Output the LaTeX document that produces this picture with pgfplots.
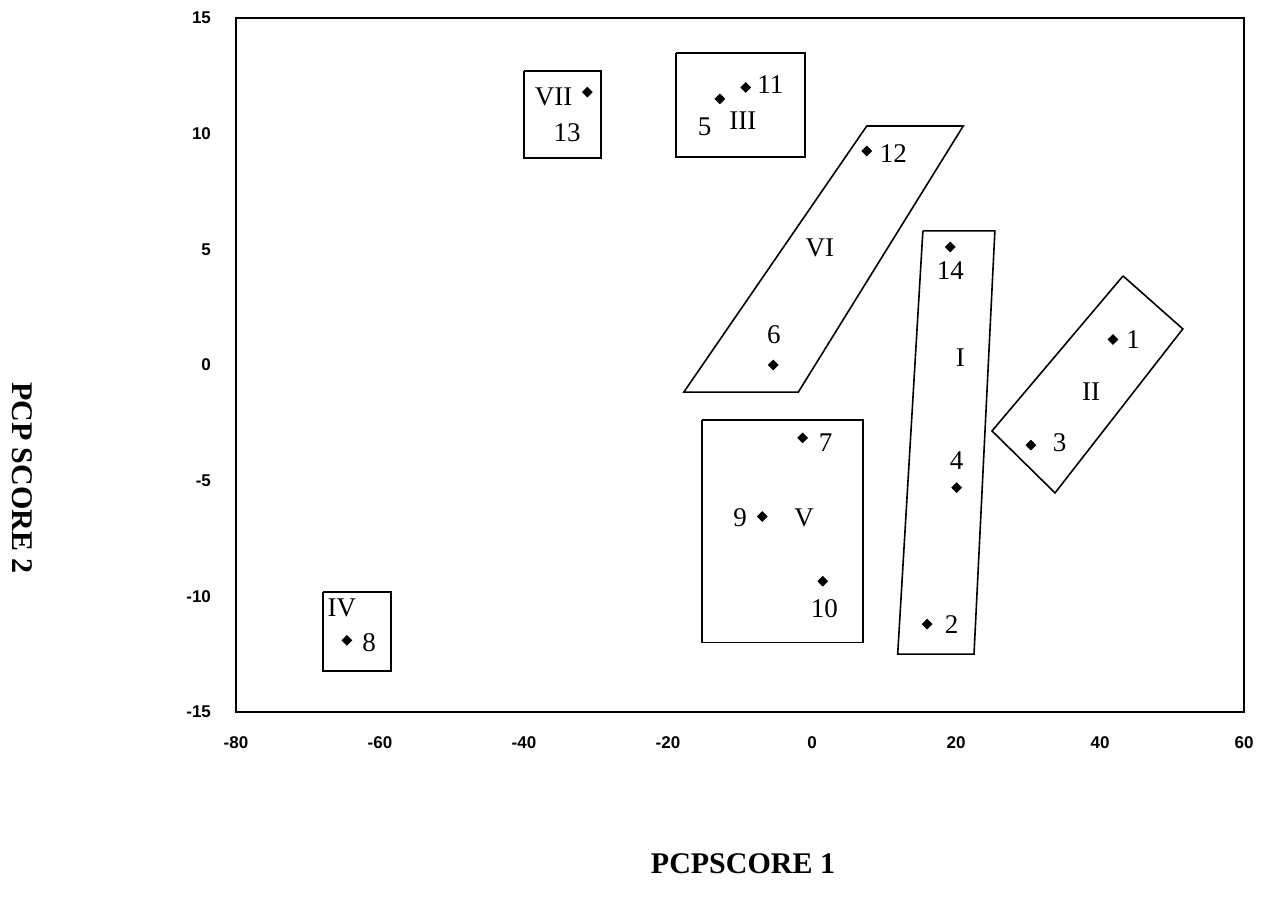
\documentclass[border=0pt]{standalone}
\usepackage{pgfplots}
\pgfplotsset{compat=1.18}
\usepackage{fontspec}
\setmainfont{Liberation Serif}
\setsansfont{Liberation Sans}
\begin{document}
\begin{tikzpicture}
\path[use as bounding box] (0,0) rectangle (637pt,448pt);
\begin{axis}[
  at={(118pt,92pt)}, anchor=south west,
  scale only axis, width=504pt, height=347pt,
  xmin=-80, xmax=60, ymin=-15, ymax=15,
  xtick={-80,-60,...,60}, ytick={-15,-10,...,15},
  major tick length=0pt,
  /pgf/number format/assume math mode=true,
  ticklabel style={font=\sffamily\bfseries\fontsize{8.5}{9}\selectfont},
  xticklabel style={yshift=-9pt},
  yticklabel style={xshift=-9pt},
  axis line style={line width=1pt},
  clip=false,
]
\addplot[only marks, mark=square*, mark size=1.7pt, mark options={rotate=45}, black] coordinates {
 (41.8,1.1) (16,-11.2) (30.4,-3.46) (20.1,-5.3) (-12.8,11.5) (-5.4,0.0) (-1.3,-3.15)
 (-64.6,-11.9) (-6.9,-6.55) (1.5,-9.35) (-9.2,12.0) (7.6,9.25) (-31.2,11.8) (19.2,5.1)
};
% group outlines
\addplot[black, line width=0.8pt] coordinates {(-40,12.7) (-29.3,12.7) (-29.3,8.95) (-40,8.95) (-40,12.7)};
\addplot[black, line width=0.8pt] coordinates {(-18.9,13.5) (-1.0,13.5) (-1.0,9.0) (-18.9,9.0) (-18.9,13.5)};
\addplot[black, line width=0.8pt] coordinates {(7.6,10.33) (21.0,10.33) (-1.9,-1.17) (-17.8,-1.17) (7.6,10.33)};
\addplot[black, line width=0.8pt] coordinates {(15.4,5.8) (25.4,5.8) (22.5,-12.5) (11.9,-12.5) (15.4,5.8)};
\addplot[black, line width=0.8pt] coordinates {(-15.3,-2.38) (7.1,-2.38) (7.1,-12.0) (-15.3,-12.0) (-15.3,-2.38)};
\addplot[black, line width=0.8pt] coordinates {(43.2,3.85) (51.5,1.56) (33.75,-5.53) (25.0,-2.85) (43.2,3.85)};
\addplot[black, line width=0.8pt] coordinates {(-67.9,-9.8) (-58.5,-9.8) (-58.5,-13.23) (-67.9,-13.23) (-67.9,-9.8)};
% labels
\begin{scope}[every node/.style={font=\fontsize{13.5}{15}\selectfont, inner sep=0pt}]
\node at (axis cs:-35.9,11.6) {VII};
\node at (axis cs:-34.0,10.05) {13};
\node at (axis cs:-5.8,12.1) {11};
\node at (axis cs:-14.9,10.3) {5};
\node at (axis cs:-9.6,10.55) {III};
\node at (axis cs:11.3,9.12) {12};
\node at (axis cs:1.1,5.06) {VI};
\node at (axis cs:-5.3,1.3) {6};
\node at (axis cs:19.2,4.1) {14};
\node at (axis cs:20.6,0.3) {I};
\node at (axis cs:44.6,1.1) {1};
\node at (axis cs:38.75,-1.17) {II};
\node at (axis cs:34.4,-3.37) {3};
\node at (axis cs:20.1,-4.15) {4};
\node at (axis cs:1.9,-3.37) {7};
\node at (axis cs:-10.0,-6.6) {9};
\node at (axis cs:-1.1,-6.6) {V};
\node at (axis cs:1.7,-10.55) {10};
\node at (axis cs:19.4,-11.2) {2};
\node at (axis cs:-65.3,-10.5) {IV};
\node at (axis cs:-61.5,-12.0) {8};
\end{scope}
\end{axis}
\node[font=\bfseries\fontsize{15}{17}\selectfont] at (371.5pt,16pt) {PCPSCORE 1};
\node[font=\bfseries\fontsize{15}{17}\selectfont, rotate=-90] at (11pt,209pt) {PCP SCORE 2};
\end{tikzpicture}
\end{document}
